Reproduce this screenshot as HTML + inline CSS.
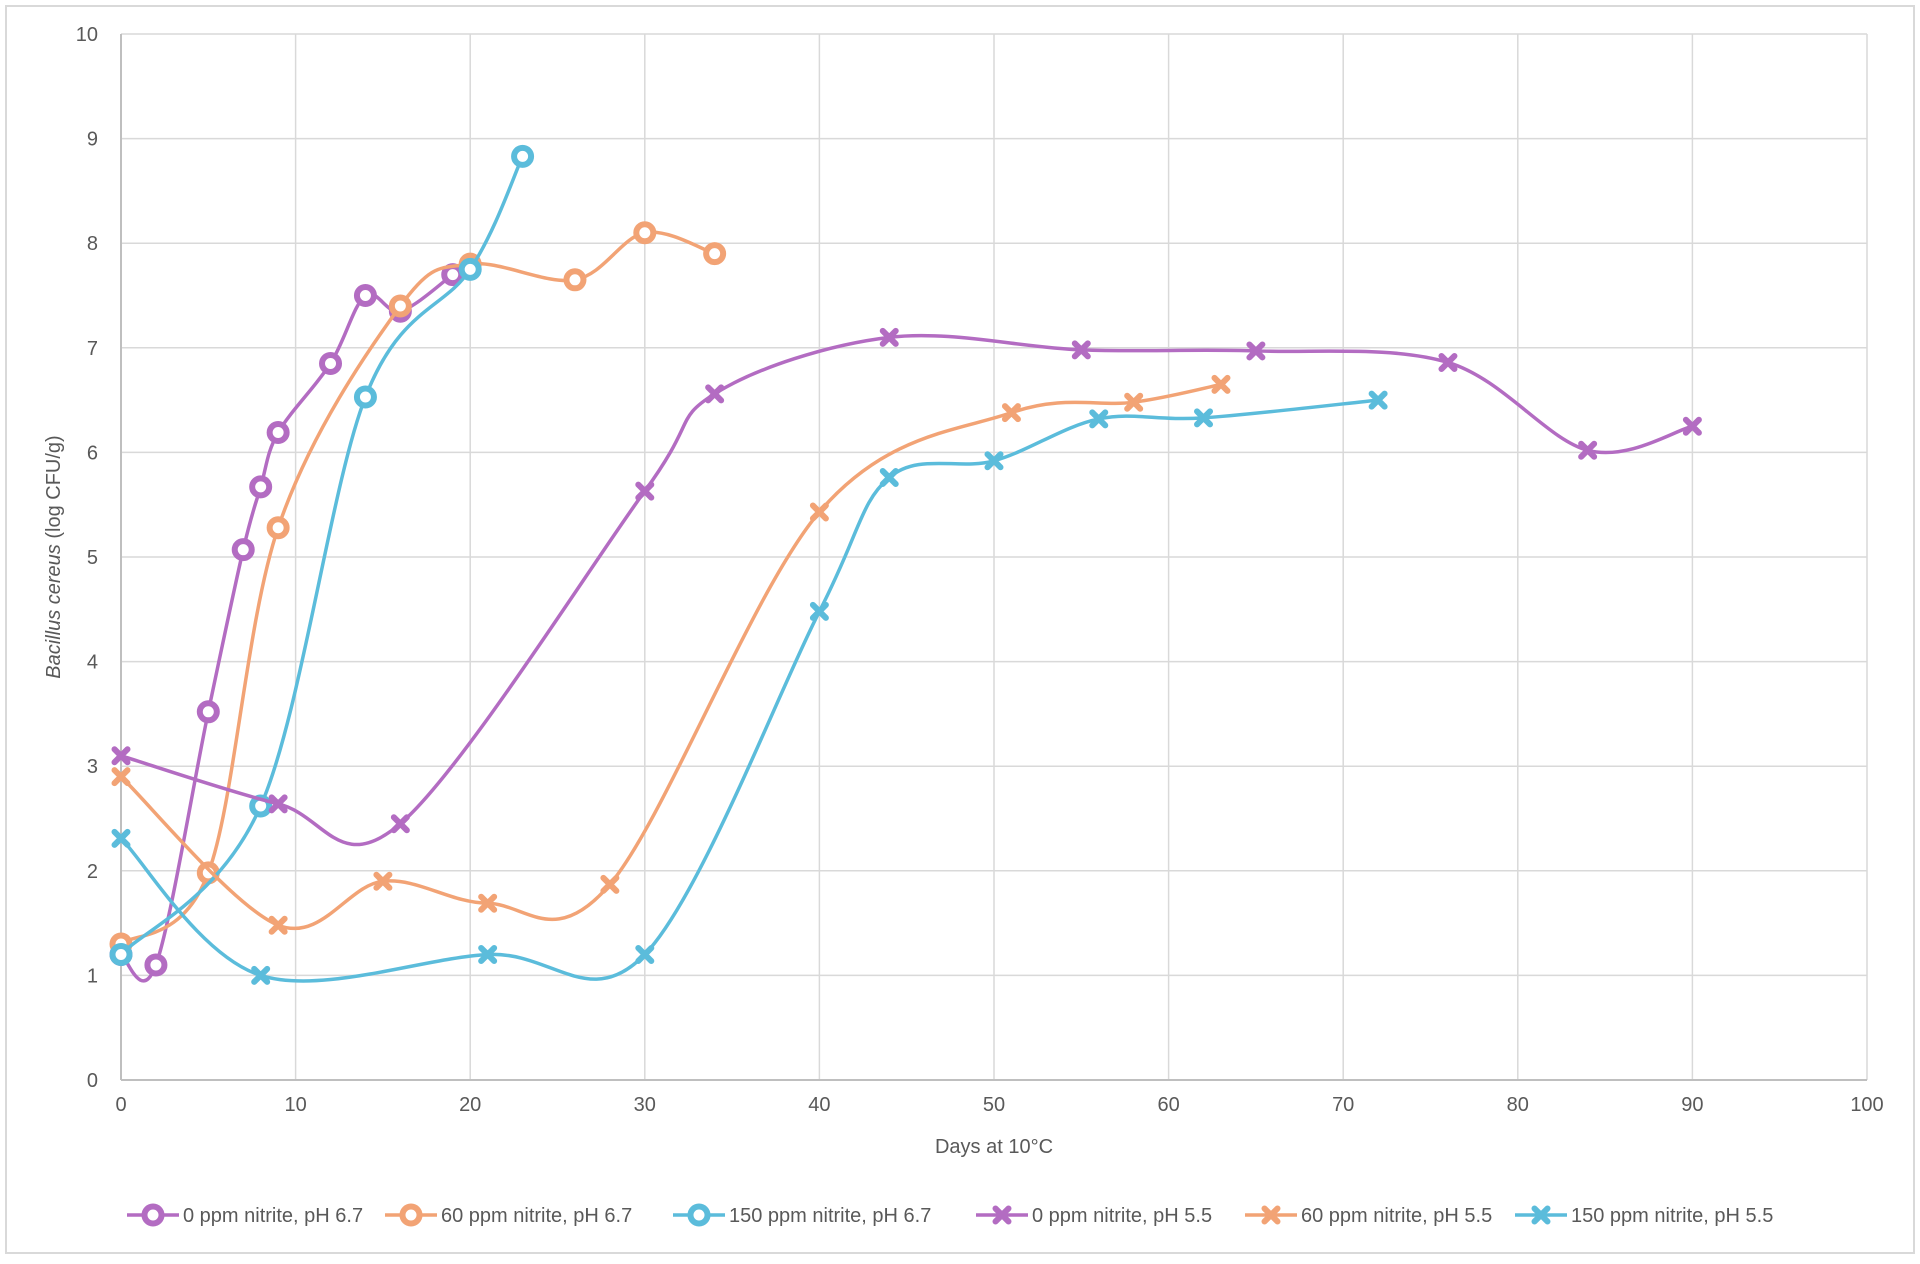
<!DOCTYPE html>
<html><head><meta charset="utf-8"><style>
body{margin:0;background:#fff;}
svg text{font-family:"Liberation Sans",sans-serif;fill:#595959;}
</style></head><body>
<svg id="s" width="1920" height="1259" xmlns="http://www.w3.org/2000/svg">
<rect x="6" y="6" width="1908" height="1247" fill="#fff" stroke="#d9d9d9" stroke-width="2"/>
<g id="grid"></g>
<g id="series"></g>
<g id="legend"></g>
<text x="994" y="1153" font-size="20" text-anchor="middle">Days at 10°C</text>
<text transform="translate(60,557) rotate(-90)" font-size="20" text-anchor="middle"><tspan font-style="italic">Bacillus cereus</tspan> (log CFU/g)</text>
</svg>
<script>
const NS="http://www.w3.org/2000/svg";
const X=d=>121+d*17.46, Y=v=>1080-v*104.6;
function el(t,a,p){const e=document.createElementNS(NS,t);for(const k in a)e.setAttribute(k,a[k]);p.appendChild(e);return e;}
const g=document.getElementById('grid');
for(let i=0;i<=10;i++){el('line',{x1:X(0),x2:X(100),y1:Y(i),y2:Y(i),stroke:'#d9d9d9','stroke-width':1.5},g);
 const t=el('text',{x:98,y:Y(i)+7,'font-size':20,'text-anchor':'end'},g);t.textContent=i;}
for(let i=0;i<=10;i++){el('line',{x1:X(i*10),x2:X(i*10),y1:Y(0),y2:Y(10),stroke:'#d9d9d9','stroke-width':1.5},g);
 const t=el('text',{x:X(i*10),y:1111,'font-size':20,'text-anchor':'middle'},g);t.textContent=i*10;}
el('line',{x1:X(0),x2:X(100),y1:Y(0),y2:Y(0),stroke:'#bfbfbf','stroke-width':2},g);
el('line',{x1:X(0),x2:X(0),y1:Y(0),y2:Y(10),stroke:'#bfbfbf','stroke-width':2},g);
const P='#b36cc2',O='#f2a375',B='#5bbcdb';
const S=[
[P,'o','0 ppm nitrite, pH 6.7',[[0,1.2],[2,1.1],[5,3.52],[7,5.07],[8,5.67],[9,6.19],[12,6.85],[14,7.5],[16,7.35],[19,7.7]]],
[O,'o','60 ppm nitrite, pH 6.7',[[0,1.3],[5,1.98],[9,5.28],[16,7.4],[20,7.8],[26,7.65],[30,8.1],[34,7.9]]],
[B,'o','150 ppm nitrite, pH 6.7',[[0,1.2],[8,2.62],[14,6.53],[20,7.75],[23,8.83]]],
[P,'x','0 ppm nitrite, pH 5.5',[[0,3.1],[9,2.64],[16,2.45],[30,5.63],[34,6.56],[44,7.1],[55,6.98],[65,6.97],[76,6.86],[84,6.02],[90,6.25]]],
[O,'x','60 ppm nitrite, pH 5.5',[[0,2.9],[9,1.48],[15,1.9],[21,1.69],[28,1.87],[40,5.43],[51,6.38],[58,6.48],[63,6.65]]],
[B,'x','150 ppm nitrite, pH 5.5',[[0,2.31],[8,1.0],[21,1.2],[30,1.2],[40,4.48],[44,5.76],[50,5.92],[56,6.32],[62,6.33],[72,6.5]]]];
function path(pts){const p=pts.map(([d,v])=>[X(d),Y(v)]);let s='M'+p[0];
 for(let i=0;i<p.length-1;i++){const a=p[i-1]||p[i],b=p[i],c=p[i+1],d=p[i+2]||c;const t=6;
  s+=`C${b[0]+(c[0]-a[0])/t},${b[1]+(c[1]-a[1])/t} ${c[0]-(d[0]-b[0])/t},${c[1]-(d[1]-b[1])/t} ${c[0]},${c[1]}`;}return s;}
function marker(x,y,c,m,p){if(m=='o'){el('circle',{cx:x,cy:y,r:8.5,fill:'#fff',stroke:c,'stroke-width':6},p);el('circle',{cx:x,cy:y,r:2,fill:'#fff'},p);}
 else{el('path',{d:`M${x-6.5},${y-6.5}L${x+6.5},${y+6.5}M${x+6.5},${y-6.5}L${x-6.5},${y+6.5}`,stroke:c,'stroke-width':6,'stroke-linecap':'round'},p);}}
const sg=document.getElementById('series');
S.forEach(([c,m,n,pts])=>{el('path',{d:path(pts),fill:'none',stroke:c,'stroke-width':3.5},sg);pts.forEach(([d,v])=>marker(X(d),Y(v),c,m,sg));});
const lg=document.getElementById('legend');const lx=[127,385,673,976,1245,1515];
S.forEach(([c,m,n],i)=>{const x=lx[i],y=1215;el('line',{x1:x,x2:x+52,y1:y,y2:y,stroke:c,'stroke-width':3.5},lg);marker(x+26,y,c,m,lg);
 const t=el('text',{x:x+56,y:y+7,'font-size':20},lg);t.textContent=n;});
</script>
</body></html>
